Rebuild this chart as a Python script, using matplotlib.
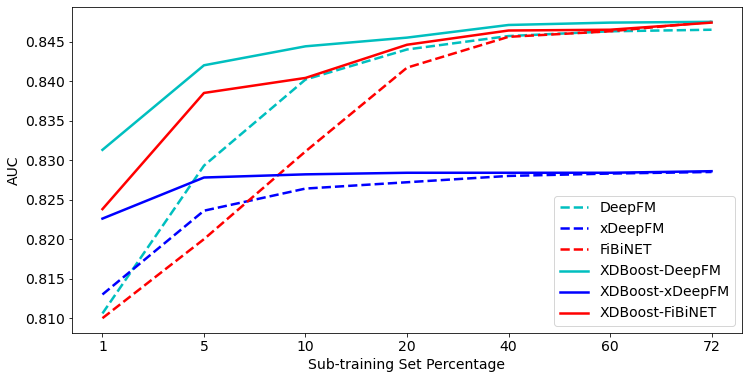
import matplotlib
matplotlib.use("Agg")
import matplotlib.pyplot as plt

x_labels = ["1", "5", "10", "20", "40", "60", "72"]

deepfm = [0.8106, 0.8293, 0.8402, 0.8440, 0.8457, 0.8463, 0.8465]
xdeepfm = [0.8130, 0.8236, 0.8264, 0.8272, 0.8280, 0.8283, 0.8285]
fibinet = [0.8100, 0.8200, 0.8311, 0.8417, 0.8456, 0.8463, 0.8475]
xdb_deepfm = [0.8313, 0.8420, 0.8444, 0.8455, 0.8471, 0.8474, 0.8475]
xdb_xdeepfm = [0.8226, 0.8278, 0.8282, 0.8284, 0.8284, 0.8284, 0.8286]
xdb_fibinet = [0.8238, 0.8385, 0.8404, 0.8446, 0.8464, 0.8465, 0.8474]

series = [
    ("DeepFM", deepfm, "c", "--"),
    ("xDeepFM", xdeepfm, "b", "--"),
    ("FiBiNET", fibinet, "r", "--"),
    ("XDBoost-DeepFM", xdb_deepfm, "c", "-"),
    ("XDBoost-xDeepFM", xdb_xdeepfm, "b", "-"),
    ("XDBoost-FiBiNET", xdb_fibinet, "r", "-"),
]

DPI = 72
fig = plt.figure(figsize=(748/DPI, 379/DPI), dpi=DPI)
ax = fig.add_axes([72/748, 1-333/379, 670/748, 326/379])
xs = list(range(len(x_labels)))
for name, vals, col, ls in series:
    ax.plot(xs, vals, color=col, linestyle=ls, linewidth=2.5, label=name)

fs = 14
ax.set_xticks(xs)
ax.set_xticklabels(x_labels, fontsize=fs)
ax.tick_params(axis='y', labelsize=fs)
ax.set_xlabel("Sub-training Set Percentage", fontsize=fs)
ax.set_ylabel("AUC", fontsize=fs)
ax.legend(loc="lower right", fontsize=fs)
fig.savefig("out.png", dpi=DPI)
